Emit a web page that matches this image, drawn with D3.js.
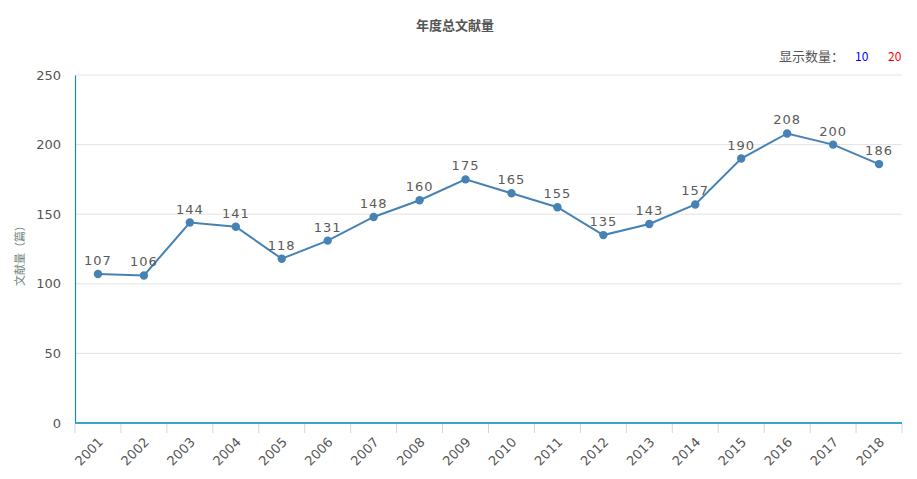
<!DOCTYPE html>
<html>
<head>
<meta charset="utf-8">
<script src="https://cdn.jsdelivr.net/npm/d3@7"></script>
<style>
  body { margin: 0; background: #fff; font-family: "Microsoft YaHei", "Noto Sans CJK SC", "DejaVu Sans", sans-serif; }
  svg { display: block; }
</style>
</head>
<body>
<svg id="chart" width="917" height="479"></svg>
<script>
// data
const years = ["2001","2002","2003","2004","2005","2006","2007","2008","2009","2010","2011","2012","2013","2014","2015","2016","2017","2018"]
const counts = [107,106,144,141,118,131,148,160,175,165,155,135,143,157,190,208,200,186]
const yTicks = [0,50,100,150,200,250]

const svg = d3.select('#chart')
const plotLeft = 75, plotRight = 902, plotTop = 75, plotBottom = 423

const x = d3.scaleBand().domain(years).range([plotLeft, plotRight])
const y = d3.scaleLinear().domain([0, 250]).range([plotBottom, plotTop])

// title
svg.append('text')
    .attr('x', 455).attr('y', 30)
    .attr('text-anchor', 'middle')
    .attr('font-size', 13).attr('font-weight', 'bold')
    .attr('fill', '#555')
    .text('年度总文献量')

// "show count" switch top right
svg.append('text').attr('x', 779).attr('y', 61)
    .attr('font-size', 13).attr('fill', '#555').text('显示数量：')
svg.append('text').attr('x', 855).attr('y', 61)
    .attr('font-size', 12).attr('fill', '#0000ff').text('10')
svg.append('text').attr('x', 888).attr('y', 61)
    .attr('font-size', 12).attr('fill', '#ff0000').text('20')

// grid lines
svg.append('g').selectAll('line').data(yTicks.filter(d => d > 0)).join('line')
    .attr('x1', plotLeft).attr('x2', plotRight)
    .attr('y1', d => y(d)).attr('y2', d => y(d))
    .attr('stroke', '#e3e3e3').attr('stroke-width', 1)

// y axis
const yAxis = svg.append('g')
    .attr('transform', `translate(${plotLeft},0)`)
    .call(d3.axisLeft(y).tickValues(yTicks).tickSize(0).tickPadding(14))
yAxis.select('.domain').attr('stroke', '#1e85b8').attr('stroke-width', 1.2)
yAxis.selectAll('text').attr('font-size', 13).attr('fill', '#555')
    .attr('font-family', '"DejaVu Sans", sans-serif')

svg.append('text')
    .attr('transform', `translate(24,${(plotTop + plotBottom) / 2 + 4}) rotate(-90)`)
    .attr('text-anchor', 'middle')
    .attr('font-size', 11).attr('fill', '#6f7f78')
    .text('文献量（篇）')

// x axis: ticks on category boundaries
const xg = svg.append('g').attr('transform', `translate(0,${plotBottom})`)
xg.append('line').attr('x1', plotLeft).attr('x2', plotRight)
    .attr('stroke', '#3aa3d2').attr('stroke-width', 2)
xg.selectAll('.tk').data(years.concat(['end'])).join('line')
    .attr('class', 'tk')
    .attr('x1', (d, i) => i < years.length ? x(d) : plotRight)
    .attr('x2', (d, i) => i < years.length ? x(d) : plotRight)
    .attr('y1', 1).attr('y2', 10)
    .attr('stroke', '#c9d6e2').attr('stroke-width', 1)
xg.selectAll('.lb').data(years).join('text')
    .attr('class', 'lb')
    .attr('transform', d => `translate(${x(d) + x.bandwidth() / 2 + 6},${20}) rotate(-45)`)
    .attr('text-anchor', 'end')
    .attr('font-size', 13).attr('fill', '#555')
    .attr('font-family', '"DejaVu Sans", sans-serif')
    .text(d => d)

// line + points
const cx = d => x(d) + x.bandwidth() / 2
const pts = years.map((d, i) => [cx(d), y(counts[i])])

svg.append('path')
    .datum(pts)
    .attr('fill', 'none')
    .attr('stroke', '#4682b4')
    .attr('stroke-width', 2)
    .attr('d', d3.line())

svg.append('g').selectAll('circle').data(years).join('circle')
    .attr('cx', d => cx(d))
    .attr('cy', (d, i) => y(counts[i]))
    .attr('r', 4.2)
    .attr('fill', '#4682b4')

svg.append('g').selectAll('text').data(years).join('text')
    .attr('x', d => cx(d))
    .attr('y', (d, i) => y(counts[i]) - 9)
    .attr('text-anchor', 'middle')
    .attr('font-size', 13).attr('fill', '#5a5a5a')
    .attr('letter-spacing', 1)
    .attr('font-family', '"DejaVu Sans", sans-serif')
    .text((d, i) => counts[i])
</script>
</body>
</html>
